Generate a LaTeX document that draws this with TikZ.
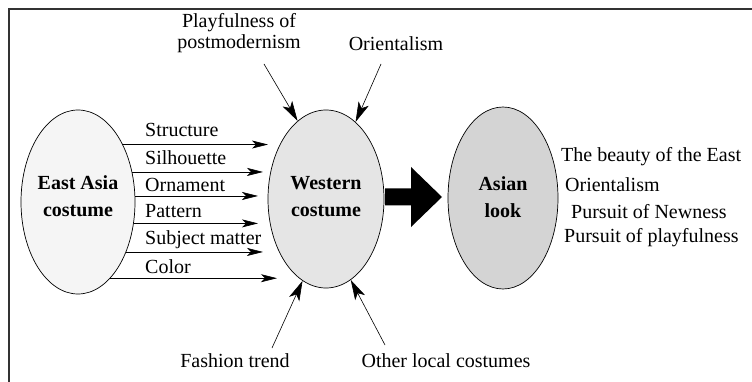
\documentclass[tikz,border=0pt]{standalone}
\usepackage{fontspec}
\setmainfont{Liberation Serif}
\usetikzlibrary{shapes.geometric,arrows.meta}
\begin{document}
\begin{tikzpicture}[x=1pt,y=-1pt,
  every node/.style={font=\fontsize{20}{27}\selectfont, inner sep=0pt},
  oval/.style={ellipse, draw=black, line width=0.7pt},
  lbl/.style={font=\fontsize{20}{27}\selectfont\bfseries, align=center},
  feed/.style={line width=0.6pt, -{Stealth[length=16pt,width=8pt,inset=4pt]}},
  infl/.style={line width=0.6pt, -{Stealth[length=20pt,width=11pt,inset=5pt]}},
]
\useasboundingbox (0,0) rectangle (752,382);
\draw[line width=1.1pt, black!80] (9,382) -- (9,9) -- (752,9);

% ellipses
\node[oval, fill=black!4, minimum width=114pt, minimum height=184pt] (ea) at (78,202) {};
\node[oval, fill=black!10, minimum width=116pt, minimum height=178pt] (we) at (326,199) {};
\node[oval, fill=black!17, minimum width=110pt, minimum height=182pt] (asian) at (503,198) {};

\node[lbl] (eat) at (78,196.5) {East Asia\\costume};
\node[lbl] (wet) at (326,197) {Western\\costume};
\node[lbl] (ast) at (503,197) {Asian\\look};

% element labels
\node[anchor=west] (l1) at (145,130) {Structure};
\node[anchor=west] (l2) at (145,158) {Silhouette};
\node[anchor=west] (l3) at (145,185) {Ornament};
\node[anchor=west] (l4) at (145,211) {Pattern};
\node[anchor=west] (l5) at (145,240) {Subject matter};
\node[anchor=west] (l6) at (145,267) {Color};

\coordinate (t1) at (268,144);
\coordinate (t2) at (263,172);
\coordinate (t3) at (258,196);
\coordinate (t4) at (258,224);
\coordinate (t5) at (263,252);
\coordinate (t6) at (277,278);
\draw[feed] (ea.52.7) -- (ea.52.7 -| t1);
\draw[feed] (ea.29.1) -- (ea.29.1 -| t2);
\draw[feed] (ea.6) -- (ea.6 -| t3);
\draw[feed] (ea.-21.7) -- (ea.-21.7 -| t4);
\draw[feed] (ea.-46.3) -- (ea.-46.3 -| t5);
\draw[feed] (ea.-67.1) -- (ea.-67.1 -| t6);

% influences
\node[align=center, font=\fontsize{20}{21}\selectfont] (pm) at (239,33) {Playfulness of\\postmodernism};
\node (or) at (396,44) {Orientalism};
\node (ft) at (235,361) {Fashion trend};
\node (ot) at (446,361) {Other local costumes};

\coordinate (s1) at (264,64);
\coordinate (s2) at (381,64);
\coordinate (s3) at (272,348);
\coordinate (s4) at (385,345);
\draw[infl] (s1) -- (we.110.1);
\draw[infl] (s2) -- (we.69.7);
\draw[infl] (s3) -- (we.-106.3);
\draw[infl] (s4) -- (we.-73.7);

% big arrow
\fill[black] (385,188.5) -- (411,188.5) -- (411,167) -- (442,197) -- (411,227) -- (411,205.5) -- (385,205.5) -- cycle;

% results
\node[anchor=west] (r1) at (561,157) {The beauty of the East};
\node[anchor=west] (r2) at (565,185) {Orientalism};
\node[anchor=west] (r3) at (571,212) {Pursuit of Newness};
\node[anchor=west] (r4) at (564,238) {Pursuit of playfulness};
\end{tikzpicture}
\end{document}
